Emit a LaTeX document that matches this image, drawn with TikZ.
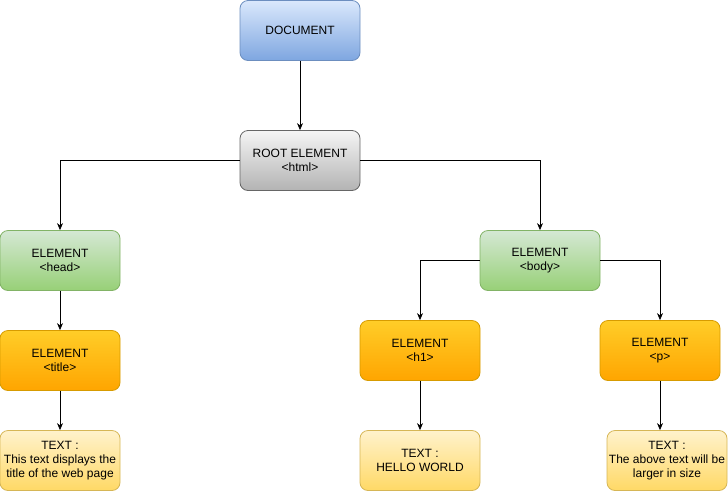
\documentclass[tikz,border=0pt]{standalone}
\usepackage{fontspec}
\setmainfont{Liberation Sans}
\usetikzlibrary{arrows.meta}
\definecolor{docstroke}{HTML}{6C8EBF}
\definecolor{doctop}{HTML}{DAE8FC}
\definecolor{docbot}{HTML}{7EA6E0}
\definecolor{rootstroke}{HTML}{666666}
\definecolor{roottop}{HTML}{F5F5F5}
\definecolor{rootbot}{HTML}{B3B3B3}
\definecolor{elstroke}{HTML}{82B366}
\definecolor{eltop}{HTML}{D5E8D4}
\definecolor{elbot}{HTML}{97D077}
\definecolor{tagstroke}{HTML}{D79B00}
\definecolor{tagtop}{HTML}{FFCD28}
\definecolor{tagbot}{HTML}{FFA500}
\definecolor{txtstroke}{HTML}{D6B656}
\definecolor{txttop}{HTML}{FFF2CC}
\definecolor{txtbot}{HTML}{FFD966}

\begin{document}
\begin{tikzpicture}[x=1pt,y=-1pt,font=\fontsize{12}{14}\selectfont,
    box/.style={draw,rounded corners=8pt,line width=0.8pt,minimum width=120pt,
      minimum height=60pt,align=center,inner sep=1pt},
    docbox/.style={box,draw=docstroke,top color=doctop,bottom color=docbot},
    rootbox/.style={box,draw=rootstroke,top color=roottop,bottom color=rootbot},
    elbox/.style={box,draw=elstroke,top color=eltop,bottom color=elbot},
    tagbox/.style={box,draw=tagstroke,top color=tagtop,bottom color=tagbot},
    txtbox/.style={box,draw=txtstroke,top color=txttop,bottom color=txtbot},
    arr/.style={-{Stealth[length=7pt,width=6pt]},line width=0.8pt}]
    \useasboundingbox (0,0) rectangle (728,491);
    \node[docbox] (doc) at (300,30.5) {DOCUMENT};
    \node[rootbox] (root) at (300,160.5) {ROOT ELEMENT\\<html>};
    \node[elbox] (head) at (60,260.5) {ELEMENT\\<head>};
    \node[elbox] (body) at (540,260.5) {ELEMENT\\<body>};
    \node[tagbox] (title) at (60,360.5) {ELEMENT\\<title>};
    \node[tagbox] (hone) at (420,350.5) {ELEMENT\\<h1>};
    \node[tagbox] (pel) at (660,350.5) {ELEMENT\\<p>};
    \node[txtbox] (titletext) at (60,460.5) {TEXT :\\This text displays the\\title of the web page};
    \node[txtbox] (honetext) at (420,460.5) {TEXT :\\HELLO WORLD};
    \node[txtbox] (ptext) at (667,460.5) {TEXT :\\The above text will be\\larger in size};
    \draw[arr] (doc) -- (root);
    \draw[arr] (root.west) -| (head.north);
    \draw[arr] (root.east) -| (body.north);
    \draw[arr] (head) -- (title);
    \draw[arr] (title) -- (titletext);
    \draw[arr] (body.west) -| (hone.north);
    \draw[arr] (body.east) -| (pel.north);
    \draw[arr] (hone) -- (honetext);
    \draw[arr] (pel.south) -- (pel.south |- ptext.north);
  \end{tikzpicture}
\end{document}
